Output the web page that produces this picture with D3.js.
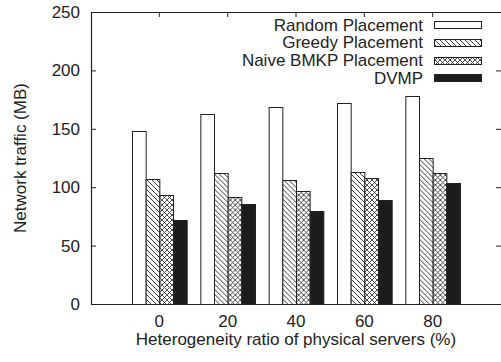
<!DOCTYPE html>
<html>
<head>
<meta charset="utf-8">
<script src="https://cdn.jsdelivr.net/npm/d3@7"></script>
<style>
  body { margin: 0; background: #fff; }
  svg { display: block; font-family: "Liberation Sans", Arial, sans-serif; }
</style>
</head>
<body>
<div id="chart"></div>
<script>
// data
const categories = ['0', '20', '40', '60', '80'];
const seriesNames = ['Random Placement', 'Greedy Placement', 'Naive BMKP Placement', 'DVMP'];
const randomVals = [148, 163, 169, 172, 178];
const greedyVals = [107, 112, 106, 113, 125];
const naiveVals = [93, 92, 97, 108, 112];
const dvmpVals = [72, 86, 80, 89, 104];
const yTicks = [0, 50, 100, 150, 200, 250];

const seriesVals = [randomVals, greedyVals, naiveVals, dvmpVals];
const fills = ['#fff', 'url(#hatch)', 'url(#cross)', '#1c1c1c'];

const W = 501, H = 362;
const plotL = 91, plotR = 501, plotT = 12, plotB = 304;
const fontSize = 17;

const svg = d3.select('#chart').append('svg')
  .attr('width', W)
  .attr('height', H);

// patterns
const defs = svg.append('defs');
const hatch = defs.append('pattern')
  .attr('id', 'hatch')
  .attr('patternUnits', 'userSpaceOnUse')
  .attr('width', 5).attr('height', 5);
hatch.append('rect').attr('width', 5).attr('height', 5).attr('fill', '#fff');
hatch.append('path')
  .attr('d', 'M0,0L5,5M-1,4L1,6M4,-1L6,1')
  .attr('stroke', '#222').attr('stroke-width', 0.9);

const cross = defs.append('pattern')
  .attr('id', 'cross')
  .attr('patternUnits', 'userSpaceOnUse')
  .attr('width', 5).attr('height', 5);
cross.append('rect').attr('width', 5).attr('height', 5).attr('fill', '#fff');
cross.append('path')
  .attr('d', 'M0,0L5,5M-1,4L1,6M4,-1L6,1M0,5L5,0M-1,1L1,-1M4,6L6,4')
  .attr('stroke', '#222').attr('stroke-width', 0.8);

// scales
const x0 = d3.scaleBand()
  .domain(categories)
  .range([plotL, plotR])
  .paddingInner(0.2)
  .paddingOuter(0.6);

const x1 = d3.scaleBand()
  .domain(d3.range(seriesNames.length))
  .range([0, x0.bandwidth()]);

const y = d3.scaleLinear()
  .domain([0, 250])
  .range([plotB, plotT]);

// axes
const yAxis = svg.append('g')
  .attr('transform', `translate(${plotL},0)`)
  .call(d3.axisLeft(y).tickValues(yTicks).tickSizeInner(-5).tickSizeOuter(0).tickPadding(11));

const yAxisR = svg.append('g')
  .attr('transform', `translate(${plotR},0)`)
  .call(d3.axisRight(y).tickValues(yTicks).tickSizeInner(-5).tickSizeOuter(0).tickFormat(''));

const xAxis = svg.append('g')
  .attr('transform', `translate(0,${plotB})`)
  .call(d3.axisBottom(x0).tickSizeInner(-5).tickSizeOuter(0).tickPadding(11));

const xAxisT = svg.append('g')
  .attr('transform', `translate(0,${plotT})`)
  .call(d3.axisTop(x0).tickSizeInner(-5).tickSizeOuter(0).tickFormat(''));

svg.selectAll('.domain').remove();
svg.selectAll('.tick line').attr('stroke', '#222');
svg.selectAll('.tick text')
  .attr('fill', '#222')
  .style('font-size', fontSize + 'px')
  .style('font-family', '"Liberation Sans", Arial, sans-serif');
xAxis.selectAll('.tick text').attr('dy', '0.71em');

// bars
const groups = svg.append('g').selectAll('g')
  .data(categories)
  .join('g')
  .attr('transform', d => `translate(${x0(d)},0)`);

groups.selectAll('rect')
  .data((d, i) => seriesVals.map((s, k) => ({ k: k, v: s[i] })))
  .join('rect')
  .attr('x', d => x1(d.k) + 0.5)
  .attr('y', d => Math.round(y(d.v)) + 0.5)
  .attr('width', x1.bandwidth())
  .attr('height', d => plotB - Math.round(y(d.v)))
  .attr('fill', d => fills[d.k])
  .attr('stroke', '#222')
  .attr('stroke-width', 1);

// frame
svg.append('path')
  .attr('d', `M${plotR + 0.5},${plotT + 0.5}H${plotL + 0.5}V${plotB + 0.5}H${plotR + 0.5}`)
  .attr('fill', 'none')
  .attr('stroke', '#222')
  .attr('stroke-width', 1.2);

// legend
const legend = svg.append('g');
const rowY = d3.scaleLinear().domain([0, 1]).range([30.5, 48.3]);
seriesNames.forEach((name, k) => {
  const by = rowY(k);
  legend.append('text')
    .attr('x', 423)
    .attr('y', by)
    .attr('text-anchor', 'end')
    .attr('fill', '#222')
    .style('font-size', fontSize + 'px')
    .text(name);
  legend.append('rect')
    .attr('x', 434.5)
    .attr('y', Math.round(by - 9.5) + 0.5)
    .attr('width', 47)
    .attr('height', 7)
    .attr('fill', fills[k])
    .attr('stroke', '#222');
});

// axis titles
svg.append('text')
  .attr('x', (plotL + plotR) / 2)
  .attr('y', 345)
  .attr('text-anchor', 'middle')
  .attr('fill', '#222')
  .style('font-size', fontSize + 'px')
  .text('Heterogeneity ratio of physical servers (%)');

svg.append('text')
  .attr('transform', `translate(26,${(plotT + plotB) / 2}) rotate(-90)`)
  .attr('text-anchor', 'middle')
  .attr('fill', '#222')
  .style('font-size', fontSize + 'px')
  .text('Network traffic (MB)');
</script>
</body>
</html>
